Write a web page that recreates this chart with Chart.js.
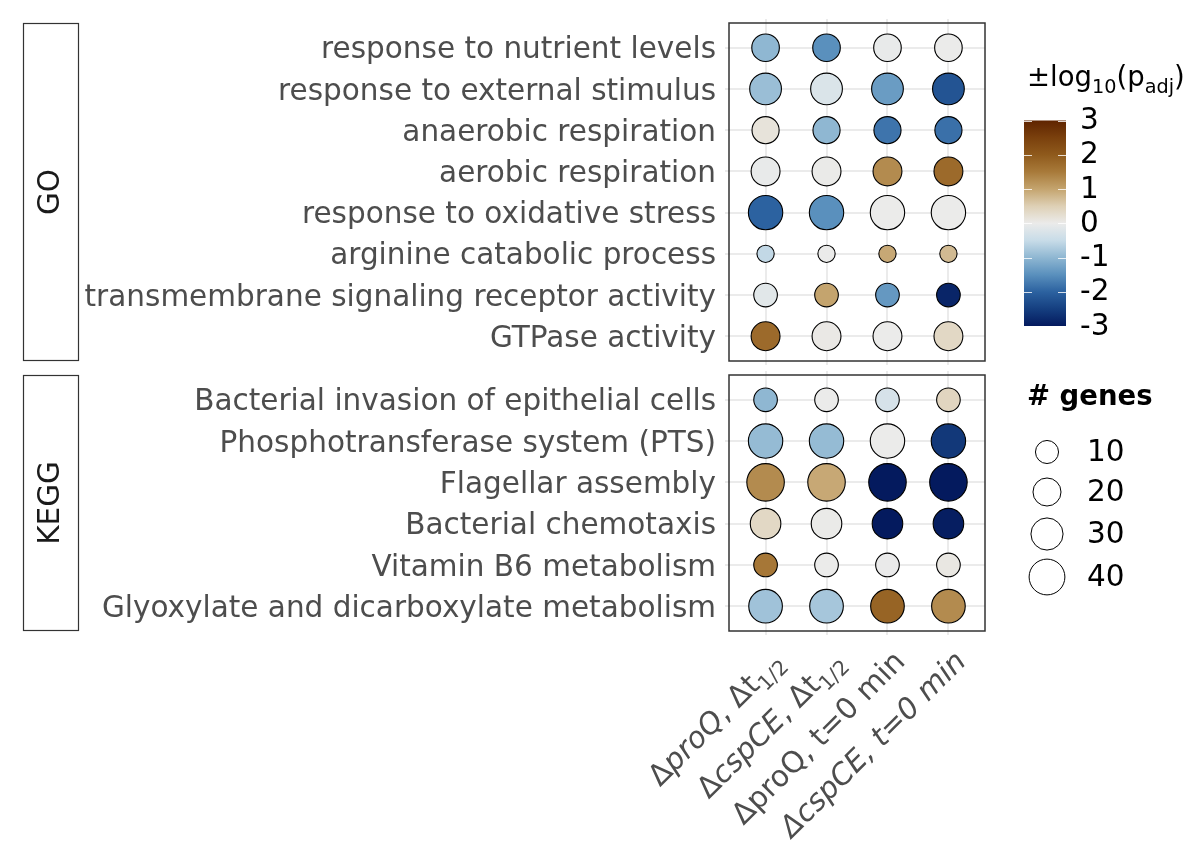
<!DOCTYPE html>
<html>
<head>
<meta charset="utf-8">
<script src="https://cdn.jsdelivr.net/npm/chart.js@4.4.1/dist/chart.umd.min.js"></script>
<style>
  html, body { margin: 0; padding: 0; background: #fff; }
  #wrap { position: relative; width: 1200px; height: 868px; overflow: hidden; }
  #wrap canvas { position: absolute; left: 0; }
</style>
</head>
<body>
<div id="wrap">
  <canvas id="go" width="1200" height="368" style="top:0"></canvas>
  <canvas id="kegg" width="1200" height="500" style="top:368px"></canvas>
</div>
<script>
// ---- data ----
const CONDITIONS = ['ΔproQ, Δt1/2', 'ΔcspCE, Δt1/2', 'ΔproQ, t=0 min', 'ΔcspCE, t=0 min'];
// same labels split for drawing: [text, italic, subscript]
const CONDITION_PARTS = [
  [['Δ', 0, 0], ['proQ', 1, 0], [', Δt', 0, 0], ['1/2', 0, 1]],
  [['Δ', 0, 0], ['cspCE', 1, 0], [', Δt', 0, 0], ['1/2', 0, 1]],
  [['ΔproQ, t=0 min', 0, 0]],
  [['ΔcspCE, t=0 min', 1, 0]]
];

const GO_TERMS = [
  'response to nutrient levels',
  'response to external stimulus',
  'anaerobic respiration',
  'aerobic respiration',
  'response to oxidative stress',
  'arginine catabolic process',
  'transmembrane signaling receptor activity',
  'GTPase activity'
];
const GO_GENES = [19, 29, 18, 22, 36, 3, 11, 22];
const GO_SCORE = [
  [-1.0, -1.5, -0.05, 0],
  [-0.9, -0.25, -1.35, -2.2],
  [0.15, -1.0, -1.8, -1.85],
  [-0.05, 0.02, 1.3, 1.75],
  [-2.0, -1.5, 0, 0],
  [-0.55, 0, 0.95, 0.75],
  [-0.15, 1.0, -1.4, -2.85],
  [1.75, 0.05, 0, 0.35]
];

const KEGG_TERMS = [
  'Bacterial invasion of epithelial cells',
  'Phosphotransferase system (PTS)',
  'Flagellar assembly',
  'Bacterial chemotaxis',
  'Vitamin B6 metabolism',
  'Glyoxylate and dicarboxylate metabolism'
];
const KEGG_GENES = [11, 36, 45, 26, 11, 34];
const KEGG_SCORE = [
  [-1.0, 0, -0.3, 0.4],
  [-0.95, -0.95, 0, -2.6],
  [1.3, 0.95, -3, -3],
  [0.35, 0.02, -3, -2.95],
  [1.55, 0, -0.02, 0.08],
  [-0.85, -0.8, 1.85, 1.3]
];

const COLOR_TICKS = [3, 2, 1, 0, -1, -2, -3];
const SIZE_BREAKS = [10, 20, 30, 40];

// ---- styling ----
const FONT = "'DejaVu Sans', sans-serif";
const GRID = '#ebebeb';
const TEXT_GREY = '#4d4d4d';
const PANEL_LEFT = 729, PANEL_RIGHT = 985;
// colour ramp, stops every 0.5 from -3 to 3
const COLOR_STOPS = ['#041a5e', '#153f80', '#2c62a0', '#5a90bd', '#8fb7d2', '#c8dce8', '#ebebea',
                     '#ded0b5', '#c4a46e', '#a87a3a', '#8f5a1c', '#7a400d', '#5f2400'];

function hexToRgb(h) { return [1, 3, 5].map(i => parseInt(h.slice(i, i + 2), 16)); }

function scoreColor(v) {
  const t = Math.max(-3, Math.min(3, v));
  const f = (t + 3) / 0.5;
  const i = Math.min(Math.floor(f), COLOR_STOPS.length - 2);
  const w = f - i;
  const a = hexToRgb(COLOR_STOPS[i]), b = hexToRgb(COLOR_STOPS[i + 1]);
  return 'rgb(' + a.map((c, k) => Math.round(c + (b[k] - c) * w)).join(',') + ')';
}

function geneRadius(n) {
  const d = 18.3 + 20.2 * Math.pow(Math.max(0, n - 3) / 42, 0.7);
  return (d - 1) / 2;
}

const panelDeco = {
  id: 'panelDeco',
  afterDatasetsDraw(chart, args, o) {
    const { ctx, chartArea: a } = chart;
    ctx.save();
    ctx.strokeStyle = '#333';
    ctx.lineWidth = 1.5;
    ctx.strokeRect(a.left, a.top, a.right - a.left, a.bottom - a.top);
    // facet strip on the left
    ctx.lineWidth = 1.2;
    ctx.strokeRect(23.5, a.top + 0.5, 55, a.bottom - a.top - 1);
    ctx.translate(51, (a.top + a.bottom) / 2);
    ctx.rotate(-Math.PI / 2);
    ctx.fillStyle = '#1a1a1a';
    ctx.font = '29.5px ' + FONT;
    ctx.textAlign = 'center';
    ctx.textBaseline = 'middle';
    ctx.fillText(o.strip, 0, 0);
    ctx.restore();
  }
};

function partFont(p, size) {
  return (p[1] ? 'italic ' : '') + (p[2] ? size * 0.7 : size) + 'px ' + FONT;
}

function drawParts(ctx, parts, x, y, size, align) {
  let w = 0;
  parts.forEach(p => { ctx.font = partFont(p, size); w += ctx.measureText(p[0]).width; });
  let cx = align === 'right' ? x - w : x;
  ctx.textAlign = 'left';
  parts.forEach(p => {
    ctx.font = partFont(p, size);
    ctx.fillText(p[0], cx, y + (p[2] ? size * 0.25 : 0));
    cx += ctx.measureText(p[0]).width;
  });
}

const conditionLabels = {
  id: 'conditionLabels',
  afterDraw(chart) {
    const { ctx, chartArea: a, scales } = chart;
    CONDITION_PARTS.forEach((parts, j) => {
      const x = scales.x.getPixelForValue(j);
      ctx.save();
      ctx.translate(x + 19, a.bottom + 32);
      ctx.rotate(-Math.PI / 4);
      ctx.fillStyle = TEXT_GREY;
      ctx.textBaseline = 'alphabetic';
      drawParts(ctx, parts, 0, 0, 29.5, 'right');
      ctx.restore();
    });
  }
};

const colorLegend = {
  id: 'colorLegend',
  afterDraw(chart) {
    const ctx = chart.ctx;
    const x0 = 1024, w = 42, yTop = 120.5, yBot = 326;
    const yOf = v => yTop + (3 - v) / 6 * (yBot - yTop);
    ctx.save();
    ctx.fillStyle = '#000';
    ctx.textBaseline = 'alphabetic';
    drawParts(ctx, [['±log', 0, 0], ['10', 0, 1], ['(p', 0, 0], ['adj', 0, 1], [')', 0, 0]], 1027, 86, 27.5, 'left');
    const g = ctx.createLinearGradient(0, yTop, 0, yBot);
    COLOR_STOPS.forEach((c, i) => g.addColorStop(1 - i / (COLOR_STOPS.length - 1), c));
    ctx.fillStyle = g;
    ctx.fillRect(x0, yTop, w, yBot - yTop);
    ctx.strokeStyle = 'rgba(255,255,255,0.8)';
    ctx.lineWidth = 1;
    ctx.font = '29.5px ' + FONT;
    ctx.textAlign = 'left';
    ctx.textBaseline = 'middle';
    COLOR_TICKS.forEach(v => {
      const y = Math.round(yOf(v)) + 0.5;
      ctx.beginPath();
      ctx.moveTo(x0, y); ctx.lineTo(x0 + 8, y);
      ctx.moveTo(x0 + w - 8, y); ctx.lineTo(x0 + w, y);
      ctx.stroke();
      ctx.fillStyle = '#000';
      ctx.fillText(String(v), 1080, yOf(v) + 1);
    });
    ctx.restore();
  }
};

const sizeLegend = {
  id: 'sizeLegend',
  afterDraw(chart) {
    const ctx = chart.ctx;
    ctx.save();
    ctx.fillStyle = '#000';
    ctx.font = 'bold 27.5px ' + FONT;
    ctx.textBaseline = 'alphabetic';
    ctx.textAlign = 'left';
    ctx.fillText('# genes', 1027, 37);
    const ys = [84, 124, 166, 209];
    ctx.font = '29.5px ' + FONT;
    ctx.textBaseline = 'middle';
    SIZE_BREAKS.forEach((n, i) => {
      ctx.beginPath();
      ctx.arc(1047, ys[i], geneRadius(n), 0, Math.PI * 2);
      ctx.fillStyle = '#fff';
      ctx.fill();
      ctx.strokeStyle = '#000';
      ctx.lineWidth = 1;
      ctx.stroke();
      ctx.fillStyle = '#000';
      ctx.fillText(String(n), 1087, ys[i] + 1);
    });
    ctx.restore();
  }
};

function makePanel(id, terms, genes, scores, top, bottom, strip, extra) {
  const canvas = document.getElementById(id);
  const H = canvas.height;
  const points = [];
  terms.forEach((t, i) => CONDITIONS.forEach((c, j) => {
    points.push({ x: j, y: i, r: geneRadius(genes[i]), v: scores[i][j] });
  }));
  const xTicks = s => { s.ticks = CONDITIONS.map((_, j) => ({ value: j })); };
  const xBase = {
    type: 'linear', min: -0.6, max: CONDITIONS.length - 0.4,
    afterBuildTicks: xTicks,
    ticks: { display: false },
    border: { display: false }
  };
  return new Chart(canvas, {
    type: 'bubble',
    data: {
      datasets: [{
        data: points,
        backgroundColor: c => scoreColor(c.raw.v),
        borderColor: '#000',
        borderWidth: 1.1,
        hoverRadius: 0
      }]
    },
    options: {
      responsive: false,
      animation: false,
      events: [],
      layout: { autoPadding: false, padding: { left: 0, right: 1200 - PANEL_RIGHT, top: top - 4, bottom: 0 } },
      plugins: {
        legend: { display: false },
        tooltip: { enabled: false },
        panelDeco: { strip: strip }
      },
      scales: {
        x: Object.assign({}, xBase, {
          grid: { color: GRID, lineWidth: 2, tickLength: 4 },
          afterFit: s => { s.height = H - bottom; s.paddingLeft = 0; s.paddingRight = 0; }
        }),
        xTop: Object.assign({}, xBase, {
          position: 'top',
          grid: { color: GRID, lineWidth: 2, tickLength: 4, drawOnChartArea: false },
          afterFit: s => { s.height = 4; s.paddingLeft = 0; s.paddingRight = 0; }
        }),
        y: {
          type: 'linear', reverse: true, min: -0.6, max: terms.length - 0.4,
          afterBuildTicks: s => { s.ticks = terms.map((_, i) => ({ value: i })); },
          ticks: {
            callback: v => terms[v],
            color: TEXT_GREY,
            font: { family: FONT, size: 29.5 },
            padding: 9,
            labelOffset: 3,
            autoSkip: false
          },
          grid: { color: GRID, lineWidth: 2, tickLength: 4 },
          border: { display: false },
          afterFit: s => { s.width = PANEL_LEFT; s.paddingTop = 0; s.paddingBottom = 0; }
        }
      }
    },
    plugins: [panelDeco].concat(extra)
  });
}

makePanel('go', GO_TERMS, GO_GENES, GO_SCORE, 23, 361, 'GO', [colorLegend]);
makePanel('kegg', KEGG_TERMS, KEGG_GENES, KEGG_SCORE, 7, 263, 'KEGG', [sizeLegend, conditionLabels]);
</script>
</body>
</html>
